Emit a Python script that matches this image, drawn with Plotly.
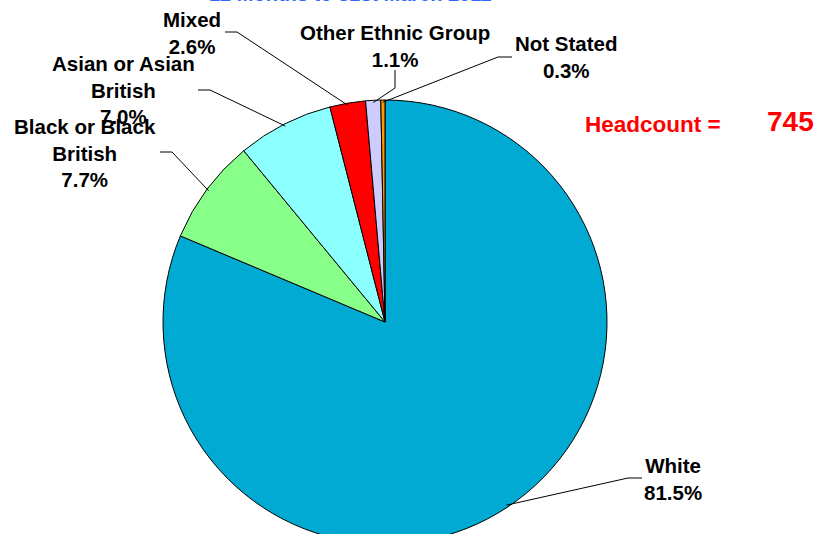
import math
import plotly.graph_objects as go

# Ethnic breakdown of headcount, 12 months to 31st March 2011
groups = ["White", "Black or Black British", "Asian or Asian British",
          "Mixed", "Other Ethnic Group", "Not Stated"]
shares = [81.5, 7.7, 7.0, 2.6, 1.1, 0.3]
label_texts = ["White", "Black or Black<br>British", "Asian or Asian<br>British",
               "Mixed", "Other Ethnic Group", "Not Stated"]
headcount = 745
title_text = "12 Months to 31st March 2011"

slice_colors = ["#00aad3", "#88ff88", "#8cffff", "#ff0000", "#ccccff", "#ff9900"]

W, H = 818, 560
CX, CY, R = 385, 322, 222   # pie centre and radius in pixels
FONT = "Liberation Sans, Arial, sans-serif"


def px(x):
    return x / W


def py(y):
    return 1 - y / H


fig = go.Figure()
fig.add_trace(go.Pie(
    labels=groups,
    values=shares,
    sort=False,
    direction="clockwise",
    rotation=0,
    marker=dict(colors=slice_colors, line=dict(color="black", width=1)),
    textinfo="none",
    hoverinfo="label+percent",
    showlegend=False,
    domain=dict(x=[px(CX - R), px(CX + R)], y=[py(CY + R), py(CY - R)]),
))

# label block centre, leader start and elbow (pixels)
label_layout = {
    "White": dict(pos=(673, 478.5), start=(642, 478), elbow=(628, 478)),
    "Black or Black British": dict(pos=(85, 153), start=(160, 152), elbow=(172, 152)),
    "Asian or Asian British": dict(pos=(123, 90), start=(198, 90), elbow=(210, 90)),
    "Mixed": dict(pos=(192, 32.5), start=(225, 32), elbow=(237, 32)),
    "Other Ethnic Group": dict(pos=(395, 46), start=(395, 70), elbow=(395, 88)),
    "Not Stated": dict(pos=(566, 57.5), start=(512, 57), elbow=(498, 57)),
}

total = sum(shares)
cum = 0.0
annotations = []
shapes = []
for name, txt, val in zip(groups, label_texts, shares):
    mid = (cum + val / 2) / total * 2 * math.pi
    cum += val
    ex = CX + R * 0.99 * math.sin(mid)
    ey = CY - R * 0.99 * math.cos(mid)
    lay = label_layout[name]
    (sx, sy), (bx, by) = lay["start"], lay["elbow"]
    shapes.append(dict(
        type="path", xref="paper", yref="paper",
        path=f"M {px(sx)},{py(sy)} L {px(bx)},{py(by)} L {px(ex)},{py(ey)}",
        line=dict(color="black", width=1),
    ))
    annotations.append(dict(
        x=px(lay["pos"][0]), y=py(lay["pos"][1]), xref="paper", yref="paper",
        text=f"<b>{txt}<br>{val:.1f}%</b>", showarrow=False,
        xanchor="center", yanchor="middle", align="center",
        font=dict(family=FONT, size=20.5, color="black"),
    ))

annotations.append(dict(
    x=px(350), y=py(-6), xref="paper", yref="paper",
    text=f"<b>{title_text}</b>", showarrow=False, xanchor="center", yanchor="middle",
    font=dict(family=FONT, size=20, color="#3366ff"),
))
annotations.append(dict(
    x=px(653), y=py(124), xref="paper", yref="paper",
    text="<b>Headcount =</b>", showarrow=False, xanchor="center", yanchor="middle",
    font=dict(family=FONT, size=22.5, color="#ff0000"),
))
annotations.append(dict(
    x=px(790), y=py(121), xref="paper", yref="paper",
    text=f"<b>{headcount}</b>", showarrow=False, xanchor="center", yanchor="middle",
    font=dict(family=FONT, size=28, color="#ff0000"),
))

fig.update_layout(
    width=W, height=H,
    margin=dict(l=0, r=0, t=0, b=0),
    paper_bgcolor="white",
    plot_bgcolor="white",
    annotations=annotations,
    shapes=shapes,
)

fig.write_html(
    "out.html",
    post_script="document.documentElement.style.overflow='hidden';"
                "document.body.style.overflow='hidden';",
)
